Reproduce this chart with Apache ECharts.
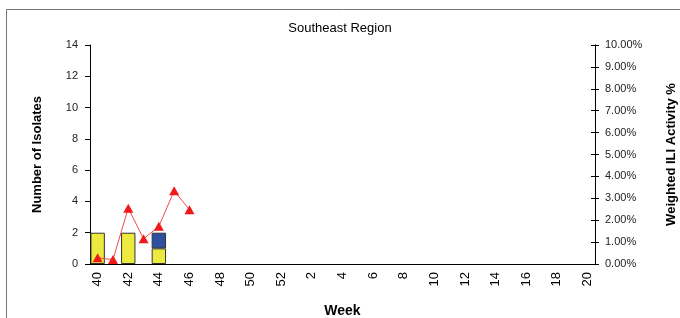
<!DOCTYPE html>
<html><head><meta charset="utf-8">
<script src="https://cdn.jsdelivr.net/npm/echarts@6/dist/echarts.min.js"></script>
<style>html,body{margin:0;padding:0;background:#fff}#c{width:680px;height:318px}</style>
</head><body><div id="c"></div>
<script>
const weeks = ['40','41','42','43','44','45','46','47','48','49','50','51','52','1','2','3','4','5','6','7','8','9','10','11','12','13','14','15','16','17','18','19','20'];
const yellowIsolates = [2,null,2,null,1];
const blueIsolates = [null,null,null,null,1];
const iliPercent = [0.28,0.2,2.55,1.15,1.72,3.34,2.48];
const leftTicks = {min:0,max:14,interval:2};
const rightTicks = {min:0,max:10,interval:1};

const chart = echarts.init(document.getElementById('c'));
const font = 'Liberation Sans, Arial, sans-serif';
const rightAxisBase = {type:'value',position:'right',min:rightTicks.min,max:rightTicks.max,interval:rightTicks.interval,
  axisLine:{show:true,lineStyle:{color:'#000'}},splitLine:{show:false}};
chart.setOption({
  animation:false,
  title:{text:'Southeast Region',left:'center',top:17,textStyle:{fontFamily:font,fontSize:13,fontWeight:'normal',color:'#000'}},
  graphic:[{type:'rect',shape:{x:6.5,y:9.5,width:700,height:400},style:{fill:'none',stroke:'#777',lineWidth:1},silent:true,z:-1}],
  grid:{left:90,right:85,top:45,bottom:54,outerBoundsMode:'none',containLabel:false},
  xAxis:{type:'category',data:weeks,
    name:'Week',nameLocation:'middle',nameGap:40,
    nameTextStyle:{fontFamily:font,fontSize:14,fontWeight:'bold',color:'#000'},
    axisLine:{lineStyle:{color:'#000',width:1}},
    axisTick:{interval:0,length:5,lineStyle:{color:'#000'}},
    axisLabel:{interval:1,rotate:90,fontFamily:font,fontSize:13,color:'#000',margin:8}},
  yAxis:[
    {type:'value',min:leftTicks.min,max:leftTicks.max,interval:leftTicks.interval,
     name:'Number of Isolates',nameLocation:'middle',nameGap:46,nameRotate:90,
     nameTextStyle:{fontFamily:font,fontSize:13,fontWeight:'bold',color:'#000'},
     axisLine:{show:true,lineStyle:{color:'#000'}},
     axisTick:{show:true,length:5,lineStyle:{color:'#000'}},
     splitLine:{show:false},
     axisLabel:{fontFamily:font,fontSize:11,color:'#222',margin:12}},
    Object.assign({},rightAxisBase,{
     name:'Weighted ILI Activity %',nameLocation:'middle',nameGap:70,nameRotate:90,
     nameTextStyle:{fontFamily:font,fontSize:13,fontWeight:'bold',color:'#000'},
     axisTick:{show:true,inside:false,length:4,lineStyle:{color:'#000'}},
     axisLabel:{fontFamily:font,fontSize:11,color:'#222',margin:10,formatter:v=>v.toFixed(2)+'%'}}),
    Object.assign({},rightAxisBase,{
     axisTick:{show:true,inside:true,length:4,lineStyle:{color:'#000'}},
     axisLabel:{show:false}})
  ],
  series:[
    {type:'bar',stack:'iso',data:yellowIsolates,barCategoryGap:'6%',
     itemStyle:{color:'#ECEA3C',borderColor:'#333',borderWidth:1}},
    {type:'bar',stack:'iso',data:blueIsolates,
     itemStyle:{color:'#2F4FA2',borderColor:'#333',borderWidth:1}},
    {type:'line',yAxisIndex:1,data:iliPercent,symbol:'triangle',symbolSize:[10,9],
     lineStyle:{color:'#F04848',width:1},itemStyle:{color:'#F01818'}}
  ]
});
</script></body></html>
